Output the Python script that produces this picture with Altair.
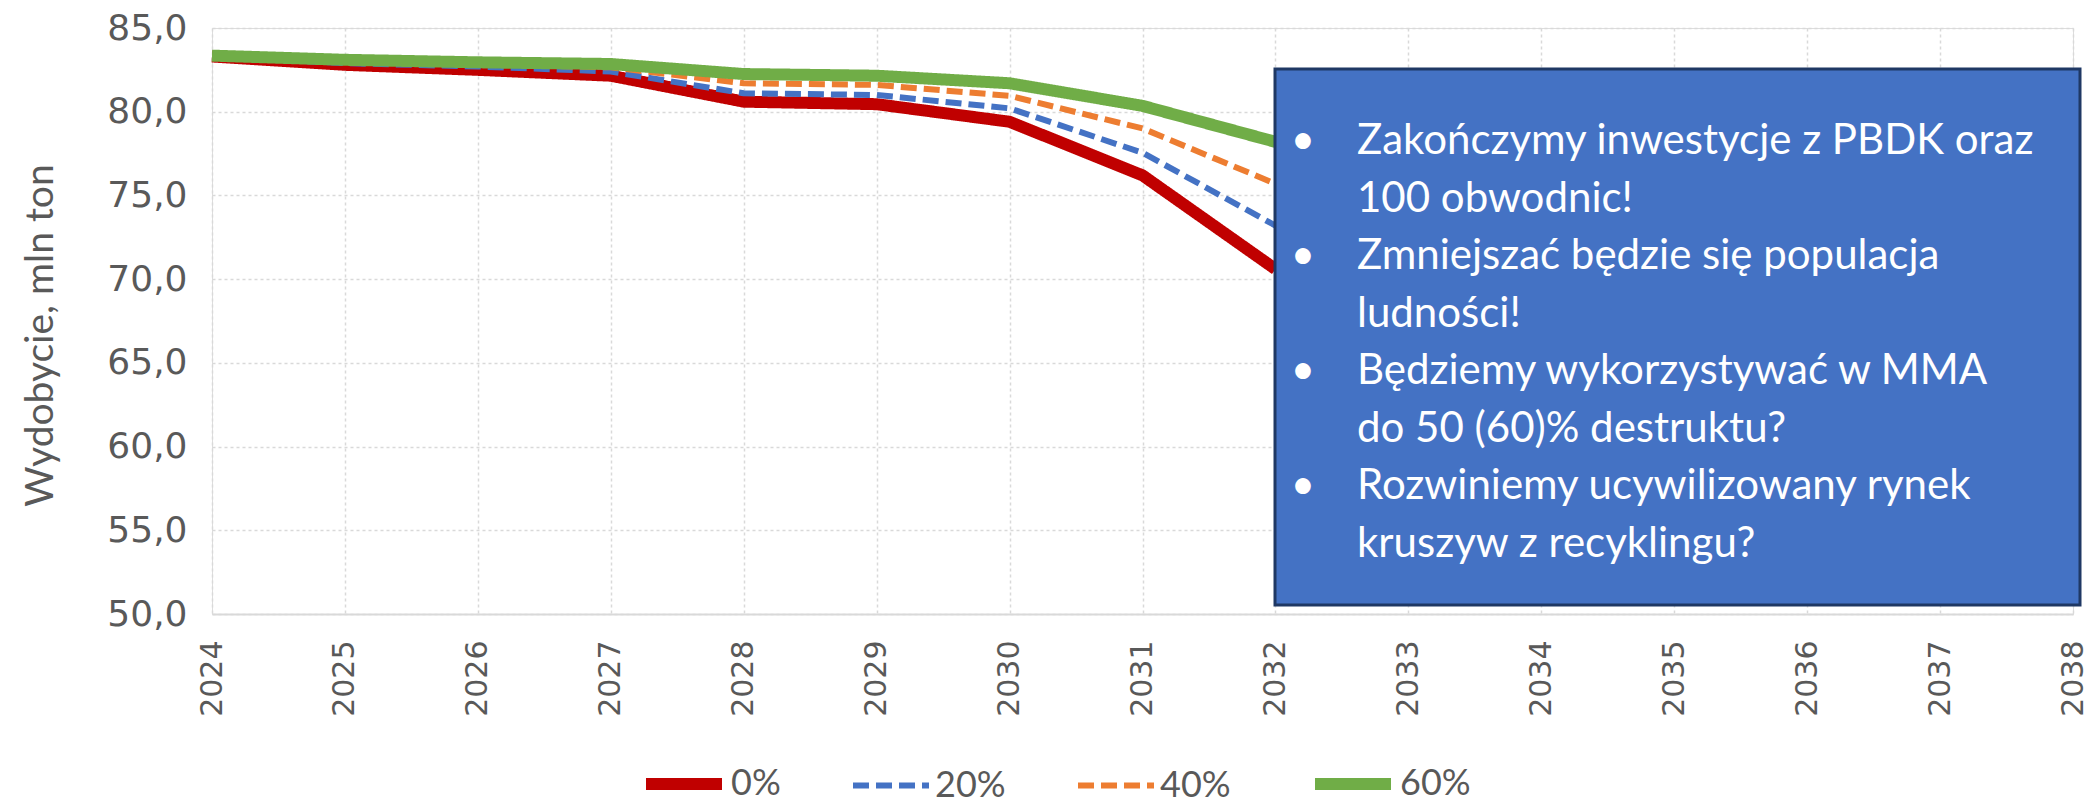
import altair as alt
import pandas as pd

years = [2024, 2025, 2026, 2027, 2028, 2029, 2030, 2031, 2032]
series_names = ["0%", "20%", "40%", "60%"]
s0 = [83.3, 82.8, 82.5, 82.15, 80.6, 80.45, 79.4, 76.2, 70.6]
s20 = [83.3, 82.9, 82.7, 82.4, 81.1, 81.0, 80.2, 77.55, 73.2]
s40 = [83.3, 83.0, 82.85, 82.65, 81.7, 81.6, 80.95, 79.0, 75.7]
s60 = [83.35, 83.1, 82.95, 82.85, 82.25, 82.15, 81.7, 80.35, 78.2]
x_ticks = list(range(2024, 2039))
y_ticks = [50, 55, 60, 65, 70, 75, 80, 85]
y_title = "Wydobycie, mln ton"
box_lines = [
    "Zakończymy inwestycje z PBDK oraz",
    "100 obwodnic!",
    "Zmniejszać będzie się populacja",
    "ludności!",
    "Będziemy wykorzystywać w MMA",
    "do 50 (60)% destruktu?",
    "Rozwiniemy ucywilizowany rynek",
    "kruszyw z recyklingu?",
]
bullets = ["•", "•", "•", "•"]

colors = ["#C00000", "#4472C4", "#ED7D31", "#70AD47"]
dashes = [[1, 0], [16, 7], [16, 7], [1, 0]]
widths = [12, 6, 6, 12]

rows = []
for name, vals in zip(series_names, [s0, s20, s40, s60]):
    for y, v in zip(years, vals):
        rows.append({"year": y, "value": v, "series": name})
df = pd.DataFrame(rows)

legend = alt.Legend(
    title=None, orient="none", direction="horizontal",
    legendX=428, legendY=712,
    symbolType="stroke", symbolSize=5776,
    labelFont="Lato", labelFontSize=36, labelColor="#595959",
    labelOffset=3, columnPadding=60,
)

lines = alt.Chart(df).mark_line(strokeCap="butt", strokeJoin="round").encode(
    x=alt.X("year:Q",
            scale=alt.Scale(domain=[2024, 2038], nice=False, zero=False),
            axis=alt.Axis(values=x_ticks, format="d", labelAngle=-90,
                          labelFont="DejaVu Sans", labelFontSize=30,
                          labelColor="#595959", labelPadding=26,
                          ticks=False, domain=True, domainColor="#D9D9D9",
                          domainWidth=2, grid=True, gridColor="#D9D9D9",
                          gridDash=[3, 3], gridWidth=1.5, title=None)),
    y=alt.Y("value:Q",
            scale=alt.Scale(domain=[50, 85], nice=False, zero=False),
            axis=alt.Axis(values=y_ticks,
                          labelExpr="replace(format(datum.value, '.1f'), '.', ',')",
                          labelFont="DejaVu Sans", labelFontSize=36,
                          labelColor="#595959", labelPadding=25,
                          ticks=False, domain=False, grid=True,
                          gridColor="#D9D9D9", gridDash=[3, 3], gridWidth=1.5,
                          title=y_title, titleFont="Lato", titleFontSize=39,
                          titleFontWeight="normal", titleColor="#595959",
                          titleX=-172, titleY=307, titleAlign="center",
                          titleBaseline="middle")),
    color=alt.Color("series:N", scale=alt.Scale(domain=series_names, range=colors), legend=legend),
    strokeDash=alt.StrokeDash("series:N", scale=alt.Scale(domain=series_names, range=dashes), legend=legend),
    strokeWidth=alt.StrokeWidth("series:N", scale=alt.Scale(type="ordinal", domain=series_names, range=widths), legend=legend),
    order=alt.Order("series:N"),
)

one = pd.DataFrame({"k": [0]})
box = alt.Chart(one).mark_rect(fill="#4472C4", stroke="#1F3864", strokeWidth=3).encode(
    x=alt.value(1063), x2=alt.value(1868), y=alt.value(41), y2=alt.value(577)
)
bullet_text = alt.Chart(one).mark_text(
    text=bullets, font="Lato", fontSize=42, color="white", align="center",
    baseline="top", lineHeight=115
).encode(x=alt.value(1091), y=alt.value(93))
box_text = alt.Chart(one).mark_text(
    text=box_lines, font="Lato", fontSize=42, color="white", align="left",
    baseline="top", lineHeight=57.5
).encode(x=alt.value(1145), y=alt.value(93))

chart = alt.layer(lines, box, bullet_text, box_text).properties(
    width=1861, height=586,
    padding={"left": 204, "top": 20, "right": 15, "bottom": 189},
    autosize="none",
).configure_view(stroke=None).configure(background="white")

chart.save("out.html", embed_options={"renderer": "svg", "actions": False})
